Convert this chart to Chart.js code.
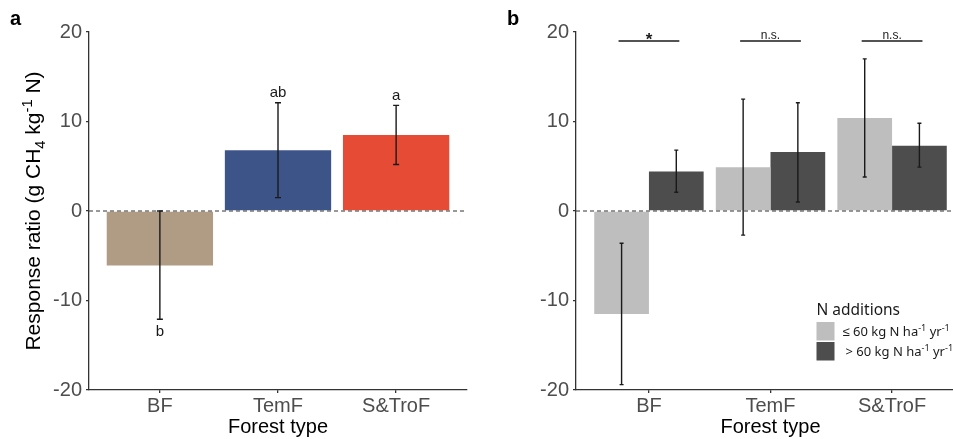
<!DOCTYPE html>
<html>
<head>
<meta charset="utf-8">
<script src="https://cdn.jsdelivr.net/npm/chart.js@4/dist/chart.umd.min.js"></script>
<style>
  html, body { margin: 0; padding: 0; background: #fff; overflow: hidden; }
  #wrap { position: relative; width: 953px; height: 439px; overflow: hidden; }
  #chartA { position: absolute; left: 0; top: 0; }
  #chartB { position: absolute; left: 480px; top: 0; }
</style>
</head>
<body>
<div id="wrap">
  <canvas id="chartA" width="480" height="439"></canvas>
  <canvas id="chartB" width="500" height="439"></canvas>
</div>
<script>
// --- data ---
const forestTypes = ['BF', 'TemF', 'S&TroF'];
const yTicks = [-20, -10, 0, 10, 20];

// panel a : all N additions
const meanA = [-6.1, 6.8, 8.5];
const lowA = [-12.1, 1.5, 5.2];
const highA = [0.0, 12.1, 11.8];
const lettersA = ['b', 'ab', 'a'];
const colorsA = ['#B09C85', '#3C5488', '#E64B35'];

// panel b : split by N rate
const meanLowN = [-11.5, 4.9, 10.4];
const lowLowN = [-19.4, -2.7, 3.8];
const highLowN = [-3.6, 12.5, 17.0];
const meanHighN = [4.4, 6.6, 7.3];
const lowHighN = [2.1, 1.0, 4.9];
const highHighN = [6.8, 12.1, 9.8];
const sigLabels = ['*', 'n.s.', 'n.s.'];
const sigLevel = 19;

const legendTitle = 'N additions';
const legendLabels = [
  [{ t: '≤ 60 kg N ha' }, { t: '-1', k: 'sup' }, { t: ' yr' }, { t: '-1', k: 'sup' }],
  [{ t: '> 60 kg N ha' }, { t: '-1', k: 'sup' }, { t: ' yr' }, { t: '-1', k: 'sup' }]
];
const yTitle = [{ t: 'Response ratio (g CH' }, { t: '4', k: 'sub' }, { t: ' kg' }, { t: '-1', k: 'sup' }, { t: ' N)' }];
const xTitle = 'Forest type';

const FONT = '"Liberation Sans", Arial, sans-serif';
const AXIS = '#333333';
const TICKC = '#4d4d4d';

// --- helpers ---
function richWidth(ctx, segs, size, family) {
  let w = 0;
  segs.forEach(s => {
    ctx.font = (s.k ? size * 0.7 : size) + 'px ' + family;
    w += ctx.measureText(s.t).width;
  });
  return w;
}
function drawRich(ctx, segs, x, y, size, family, color) {
  let cx = x;
  ctx.fillStyle = color;
  ctx.textAlign = 'left';
  ctx.textBaseline = 'alphabetic';
  segs.forEach(s => {
    ctx.font = (s.k ? size * 0.7 : size) + 'px ' + family;
    const dy = s.k === 'sub' ? size * 0.22 : s.k === 'sup' ? -size * 0.38 : 0;
    ctx.fillText(s.t, cx, y + dy);
    cx += ctx.measureText(s.t).width;
  });
}
function errBar(ctx, x, y1, y2, cap) {
  ctx.beginPath();
  ctx.moveTo(x, y1); ctx.lineTo(x, y2);
  ctx.moveTo(x - cap, y1); ctx.lineTo(x + cap, y1);
  ctx.moveTo(x - cap, y2); ctx.lineTo(x + cap, y2);
  ctx.stroke();
}
function zeroLine(chart) {
  const ctx = chart.ctx, a = chart.chartArea, y = chart.scales.y.getPixelForValue(0);
  ctx.save();
  ctx.strokeStyle = '#333';
  ctx.lineWidth = 1;
  ctx.setLineDash([4, 3]);
  ctx.beginPath(); ctx.moveTo(a.left, y); ctx.lineTo(a.right, y); ctx.stroke();
  ctx.restore();
}

function scales(yWidth) {
  return {
    x: {
      type: 'linear', min: -0.6, max: 2.6, offset: false, bounds: 'data',
      afterBuildTicks: s => { s.ticks = forestTypes.map((c, i) => ({ value: i })); },
      afterFit: s => { s.height = 49; },
      grid: { offset: false, drawOnChartArea: false, drawTicks: true, tickLength: 3, color: AXIS, lineWidth: 1.3 },
      border: { display: true, color: AXIS, width: 1.3 },
      ticks: { callback: v => forestTypes[v], color: TICKC, font: { size: 20, family: FONT }, padding: 1, maxRotation: 0, autoSkip: false },
      title: { display: true, text: xTitle, color: '#000', font: { size: 20, family: FONT }, padding: 0 }
    },
    y: {
      min: -20, max: 20,
      afterBuildTicks: s => { s.ticks = yTicks.map(v => ({ value: v })); },
      afterFit: s => { s.width = yWidth; },
      grid: { drawOnChartArea: false, drawTicks: true, tickLength: 3, color: AXIS, lineWidth: 1.3 },
      border: { display: true, color: AXIS, width: 1.3 },
      ticks: { color: TICKC, font: { size: 20, family: FONT }, padding: 4 }
    }
  };
}

// --- panel a ---
new Chart(document.getElementById('chartA'), {
  type: 'bar',
  data: {
    datasets: [{
      data: meanA.map((v, i) => ({ x: i, y: v })),
      backgroundColor: colorsA,
      borderWidth: 0,
      categoryPercentage: 0.9,
      barPercentage: 1
    }]
  },
  options: {
    responsive: false, animation: false,
    layout: { padding: { left: 0, top: 32, right: 13, bottom: 0 } },
    plugins: { legend: { display: false }, tooltip: { enabled: false } },
    scales: scales(89)
  },
  plugins: [{
    id: 'decorA',
    afterDatasetsDraw(chart) {
      const ctx = chart.ctx, y = chart.scales.y;
      zeroLine(chart);
      const bars = chart.getDatasetMeta(0).data;
      ctx.save();
      ctx.strokeStyle = '#1a1a1a'; ctx.lineWidth = 1.4;
      bars.forEach((b, i) => errBar(ctx, b.x, y.getPixelForValue(lowA[i]), y.getPixelForValue(highA[i]), 3));
      ctx.fillStyle = '#1a1a1a';
      ctx.font = '15px ' + FONT;
      ctx.textAlign = 'center'; ctx.textBaseline = 'middle';
      bars.forEach((b, i) => {
        if (meanA[i] >= 0) ctx.fillText(lettersA[i], b.x, y.getPixelForValue(highA[i]) - 10);
        else ctx.fillText(lettersA[i], b.x, y.getPixelForValue(lowA[i]) + 13);
      });
      // y title
      const a = chart.chartArea;
      const w = richWidth(ctx, yTitle, 21, FONT);
      ctx.translate(40, (a.top + a.bottom) / 2);
      ctx.rotate(-Math.PI / 2);
      drawRich(ctx, yTitle, -w / 2, 0, 21, FONT, '#000');
      ctx.restore();
      // panel label
      ctx.save();
      ctx.fillStyle = '#000'; ctx.font = 'bold 20px ' + FONT;
      ctx.textAlign = 'left'; ctx.textBaseline = 'alphabetic';
      ctx.fillText('a', 10, 25);
      ctx.restore();
    }
  }]
});

// --- panel b ---
new Chart(document.getElementById('chartB'), {
  type: 'bar',
  data: {
    datasets: [
      { label: 'low', data: meanLowN.map((v, i) => ({ x: i, y: v })), backgroundColor: '#BEBEBE', borderWidth: 0, categoryPercentage: 0.9, barPercentage: 1 },
      { label: 'high', data: meanHighN.map((v, i) => ({ x: i, y: v })), backgroundColor: '#4D4D4D', borderWidth: 0, categoryPercentage: 0.9, barPercentage: 1 }
    ]
  },
  options: {
    responsive: false, animation: false,
    layout: { padding: { left: 0, top: 32, right: 15, bottom: 0 } },
    plugins: { legend: { display: false }, tooltip: { enabled: false } },
    scales: scales(96)
  },
  plugins: [{
    id: 'decorB',
    afterDatasetsDraw(chart) {
      const ctx = chart.ctx, y = chart.scales.y, x = chart.scales.x;
      zeroLine(chart);
      const lowBars = chart.getDatasetMeta(0).data, highBars = chart.getDatasetMeta(1).data;
      ctx.save();
      ctx.strokeStyle = '#1a1a1a'; ctx.lineWidth = 1.4;
      lowBars.forEach((b, i) => errBar(ctx, b.x, y.getPixelForValue(lowLowN[i]), y.getPixelForValue(highLowN[i]), 2));
      highBars.forEach((b, i) => errBar(ctx, b.x, y.getPixelForValue(lowHighN[i]), y.getPixelForValue(highHighN[i]), 2));
      // significance brackets
      const step = x.getPixelForValue(1) - x.getPixelForValue(0);
      const sy = y.getPixelForValue(sigLevel);
      ctx.fillStyle = '#1a1a1a';
      ctx.textAlign = 'center'; ctx.textBaseline = 'alphabetic';
      forestTypes.forEach((c, i) => {
        const cx = x.getPixelForValue(i);
        ctx.beginPath(); ctx.moveTo(cx - step * 0.25, sy); ctx.lineTo(cx + step * 0.25, sy); ctx.stroke();
        ctx.font = (sigLabels[i] === '*' ? 'bold 17px ' : '12px ') + FONT;
        ctx.fillText(sigLabels[i], cx, sigLabels[i] === '*' ? sy + 4 : sy - 2);
      });
      // legend
      const LF = '"Noto Sans", sans-serif';
      ctx.fillStyle = '#1a1a1a';
      ctx.font = '15.5px ' + LF;
      ctx.textAlign = 'left';
      ctx.fillText(legendTitle, 336.5, 315);
      ctx.fillStyle = '#BEBEBE'; ctx.fillRect(336.5, 322, 18, 18.5);
      ctx.fillStyle = '#4D4D4D'; ctx.fillRect(336.5, 342, 18, 18.5);
      drawRich(ctx, legendLabels[0], 362.5, 335.5, 13, LF, '#1a1a1a');
      drawRich(ctx, legendLabels[1], 365.5, 355.5, 13, LF, '#1a1a1a');
      // panel label
      ctx.fillStyle = '#000'; ctx.font = 'bold 20px ' + FONT;
      ctx.fillText('b', 27, 25);
      ctx.restore();
    }
  }]
});
</script>
</body>
</html>
